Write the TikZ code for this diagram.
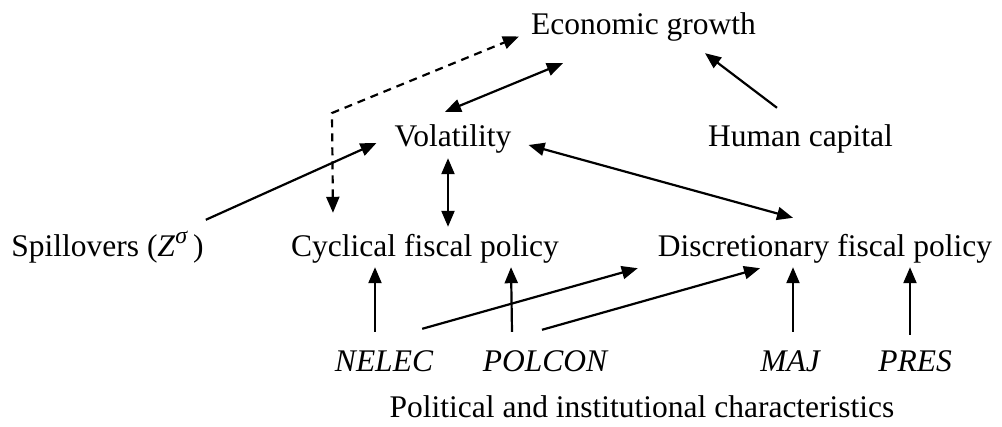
\documentclass[tikz,border=0pt]{standalone}
\usepackage{fontspec}
\setmainfont{Liberation Serif}
\usetikzlibrary{arrows.meta}

\tikzset{
  lbl/.style={anchor=base, inner sep=4pt, text height=22pt, text depth=7pt, font=\fontsize{31.5}{38}\selectfont},
  var/.style={lbl, font=\fontsize{31.5}{38}\selectfont\itshape},
  link/.style={line width=2.2pt, -{Triangle[length=16pt, width=13pt]}},
  twoway/.style={line width=2.2pt, {Triangle[length=16pt, width=13pt]}-{Triangle[length=16pt, width=13pt]}},
}

\begin{document}
\begin{tikzpicture}[x=1pt, y=1pt]
\useasboundingbox (0,0) rectangle (1002,426);
\node[lbl] (growth) at (643.5,391) {Economic growth};
\node[lbl] (vol) at (453,279) {Volatility};
\node[lbl] (human) at (800.5,279) {Human capital};
\node[lbl] (spill) at (107.5,169) {Spillovers (\textit{Z}\raisebox{0.42em}{\fontsize{24}{24}\selectfont\textit{σ}}\,)};
\node[lbl] (cyc) at (425,169) {Cyclical fiscal policy};
\node[lbl] (disc) at (825,169) {Discretionary fiscal policy};
\node[var] (nelec) at (384,54) {NELEC};
\node[var] (polcon) at (545,54) {POLCON};
\node[var] (maj) at (790,54) {MAJ};
\node[var] (pres) at (915,54) {PRES};
\node[lbl] (pol) at (642,9) {Political and institutional characteristics};
\coordinate (bend) at (332,313);
\draw[twoway, dash pattern=on 8pt off 6pt] ([shift={(46,18)}]cyc.north west) -- (bend) -- ([shift={(-8,-9)}]growth.west);
\draw[twoway] ([shift={(-8,9)}]vol.north) -- ([shift={(36,-17)}]growth.south west);
\draw[link] ([shift={(-23.5,13)}]human.north) -- ([shift={(61.5,-7)}]growth.south);
\draw[link] ([shift={(-2,11)}]spill.north east) -- ([shift={(-14,-3.5)}]vol.west);
\draw[twoway] ([xshift=-5]vol.south) -- ([shift={(23,4)}]cyc.north);
\draw[twoway] ([shift={(13,-5.5)}]vol.east) -- ([shift={(-32,13)}]disc.north);
\draw[link] ([shift={(-9,14)}]nelec.north) -- ([shift={(-50,1)}]cyc.south);
\draw[link] ([shift={(-15,17)}]nelec.north east) -- ([shift={(-16,0)}]disc.south west);
\draw[link] ([shift={(-33,14)}]polcon.north) -- ([shift={(-52,1)}]cyc.south east);
\draw[link] ([shift={(-3,16)}]polcon.north) -- ([shift={(-65,0)}]disc.south);
\draw[link] ([shift={(3,14)}]maj.north) -- ([shift={(-32,1)}]disc.south);
\draw[link] ([shift={(-5,11)}]pres.north) -- ([shift={(85,1)}]disc.south);
\end{tikzpicture}
\end{document}
